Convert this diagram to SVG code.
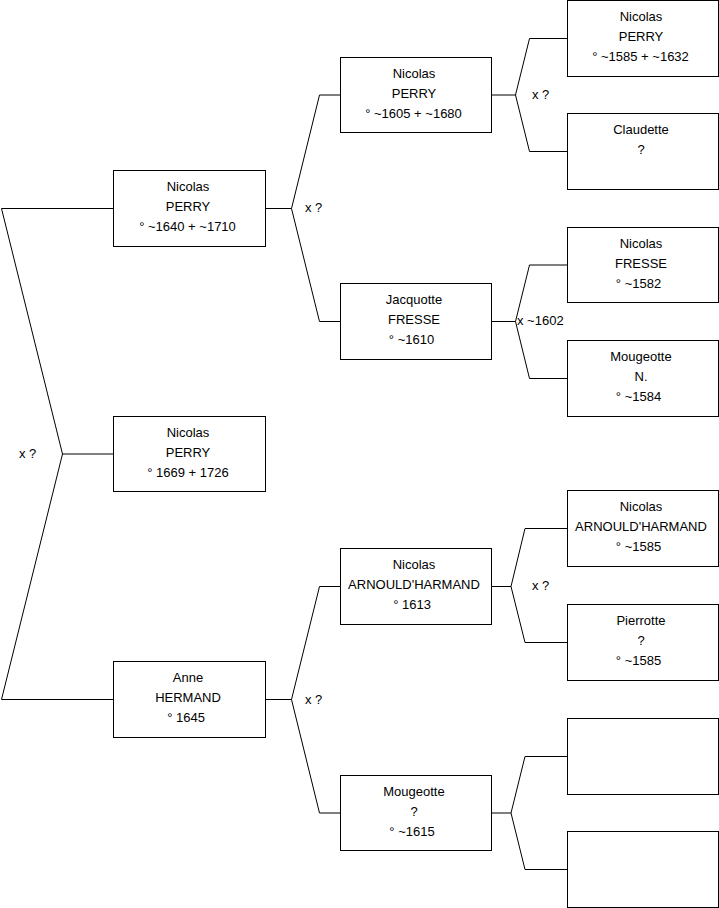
<svg xmlns="http://www.w3.org/2000/svg" width="719" height="908" viewBox="0 0 719 908">
<style>
.box{fill:#fff;stroke:#000;stroke-width:1}
.ln{fill:none;stroke:#000;stroke-width:1}
text{font-family:"Liberation Sans",Arial,sans-serif;font-size:13px;fill:#000}
.c{text-anchor:middle}
</style>
<rect width="719" height="908" fill="#fff"/>
<g id="connectors">
<path class="ln" d="M113.5,208.5 H1.5 L62.5,454 L1.5,699.5 H113.5 M62.5,454 H113.5"/>
<path class="ln" d="M265.5,208.5 H291.5 L319.5,95 H340.5 M291.5,208.5 L319.5,321.5 H340.5"/>
<path class="ln" d="M265.5,699.5 H291.5 L319.5,586.5 H340.5 M291.5,699.5 L319.5,813 H340.5"/>
<path class="ln" d="M491.5,95 H515.5 L529.5,38.5 H567.5 M515.5,95 L529.5,151.5 H567.5"/>
<path class="ln" d="M491.5,321.5 H515.5 L529.5,265 H567.5 M515.5,321.5 L529.5,378.5 H567.5"/>
<path class="ln" d="M491.5,586.5 H511 L525,528.5 H567.5 M511,586.5 L525,642.5 H567.5"/>
<path class="ln" d="M491.5,813 H511 L525,756.5 H567.5 M511,813 L525,869.5 H567.5"/>
<text x="19" y="458">x ?</text>
<text x="305" y="212">x ?</text>
<text x="305" y="703.5">x ?</text>
<text x="532" y="99">x ?</text>
<text x="517" y="325">x ~1602</text>
<text x="532" y="590">x ?</text>
</g>
<g id="n1">
<rect class="box" x="113.5" y="170.5" width="152" height="76"/>
<text class="c" x="188" y="191">Nicolas</text><text class="c" x="188" y="211">PERRY</text><text class="c" x="187.5" y="231">° ~1640 + ~1710</text>
</g>
<g id="n2">
<rect class="box" x="113.5" y="416.5" width="152" height="75"/>
<text class="c" x="188" y="437">Nicolas</text><text class="c" x="188" y="457">PERRY</text><text class="c" x="188" y="477">° 1669 + 1726</text>
</g>
<g id="n3">
<rect class="box" x="113.5" y="661.5" width="152" height="76"/>
<text class="c" x="188" y="682">Anne</text><text class="c" x="188" y="702">HERMAND</text><text class="c" x="186" y="722">° 1645</text>
</g>
<g id="n4">
<rect class="box" x="340.5" y="57.5" width="151" height="75"/>
<text class="c" x="414" y="78">Nicolas</text><text class="c" x="414" y="98">PERRY</text><text class="c" x="413.5" y="118">° ~1605 + ~1680</text>
</g>
<g id="n5">
<rect class="box" x="340.5" y="283.5" width="151" height="76"/>
<text class="c" x="414" y="304">Jacquotte</text><text class="c" x="414" y="324">FRESSE</text><text class="c" x="411.5" y="344">° ~1610</text>
</g>
<g id="n6">
<rect class="box" x="340.5" y="548.5" width="151" height="76"/>
<text class="c" x="414" y="569">Nicolas</text><text class="c" x="414" y="589">ARNOULD'HARMAND</text><text class="c" x="412" y="609">° 1613</text>
</g>
<g id="n7">
<rect class="box" x="340.5" y="775.5" width="151" height="75"/>
<text class="c" x="414" y="796">Mougeotte</text><text class="c" x="414" y="816">?</text><text class="c" x="412" y="836">° ~1615</text>
</g>
<g id="n8">
<rect class="box" x="567.5" y="0.5" width="151" height="76"/>
<text class="c" x="641" y="21">Nicolas</text><text class="c" x="641" y="41">PERRY</text><text class="c" x="640.5" y="61">° ~1585 + ~1632</text>
</g>
<g id="n9">
<rect class="box" x="567.5" y="113.5" width="151" height="76"/>
<text class="c" x="641" y="134">Claudette</text><text class="c" x="641" y="154">?</text>
</g>
<g id="n10">
<rect class="box" x="567.5" y="227.5" width="151" height="75"/>
<text class="c" x="641" y="248">Nicolas</text><text class="c" x="641" y="268">FRESSE</text><text class="c" x="638.5" y="288">° ~1582</text>
</g>
<g id="n11">
<rect class="box" x="567.5" y="340.5" width="151" height="76"/>
<text class="c" x="641" y="361">Mougeotte</text><text class="c" x="641" y="381">N.</text><text class="c" x="638.5" y="401">° ~1584</text>
</g>
<g id="n12">
<rect class="box" x="567.5" y="490.5" width="151" height="76"/>
<text class="c" x="641" y="511">Nicolas</text><text class="c" x="641" y="531">ARNOULD'HARMAND</text><text class="c" x="638.5" y="551">° ~1585</text>
</g>
<g id="n13">
<rect class="box" x="567.5" y="604.5" width="151" height="76"/>
<text class="c" x="641" y="625">Pierrotte</text><text class="c" x="641" y="645">?</text><text class="c" x="638.5" y="665">° ~1585</text>
</g>
<g id="n14">
<rect class="box" x="567.5" y="718.5" width="151" height="76"/>
</g>
<g id="n15">
<rect class="box" x="567.5" y="831.5" width="151" height="76"/>
</g>
</svg>
